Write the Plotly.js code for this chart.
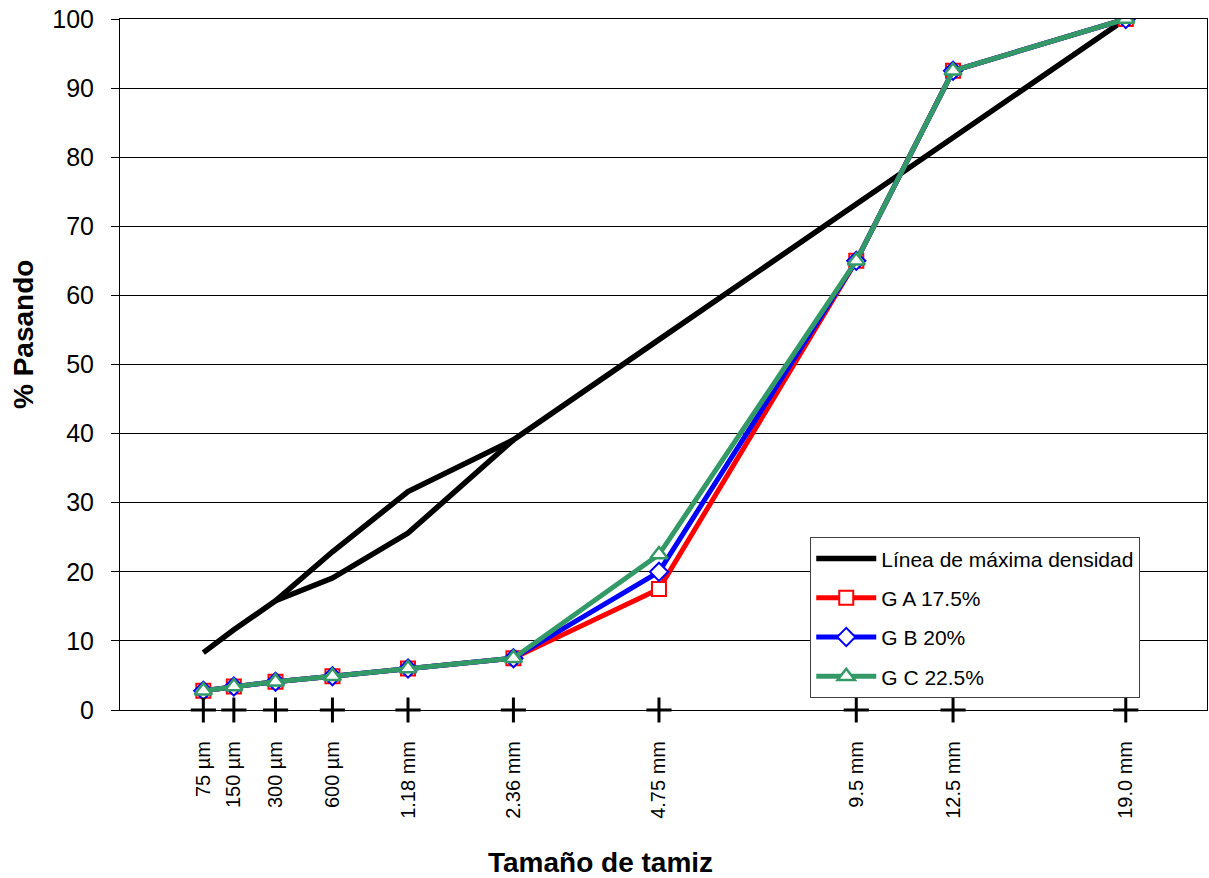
<!DOCTYPE html>
<html>
<head>
<meta charset="utf-8">
<script src="https://cdn.plot.ly/plotly-3.0.1.min.js"></script>
<style>html,body{margin:0;padding:0;background:#fff;}#chart{width:1209px;height:878px;}</style>
</head>
<body>
<div id="chart"></div>
<script>
// Sieve sizes (mm) and their labels
const sieveSizes = [0.075, 0.15, 0.3, 0.6, 1.18, 2.36, 4.75, 9.5, 12.5, 19.0];
const sieveLabels = ['75 µm', '150 µm', '300 µm', '600 µm', '1.18 mm', '2.36 mm', '4.75 mm', '9.5 mm', '12.5 mm', '19.0 mm'];
const powerExponent = 0.45; // 0.45-power gradation chart

// Maximum density line (as drawn, with its second branch between 300 µm and 2.36 mm)
const maxDensity = [8.3, 11.6, 15.8, 22.9, 31.6, 39.1, 53.6, 73.2, 82.9, 100];
const maxDensityBranchSizes = [0.3, 0.6, 1.18, 2.36];
const maxDensityBranch = [15.8, 19.1, 25.6, 39.1];

// Gradations (% passing)
const gradA = [2.8, 3.4, 4.1, 4.9, 6.0, 7.5, 17.5, 65.0, 92.5, 100];
const gradB = [2.8, 3.4, 4.1, 4.9, 6.0, 7.5, 20.0, 65.0, 92.5, 100];
const gradC = [2.8, 3.4, 4.1, 4.9, 6.0, 7.5, 22.5, 65.0, 92.5, 100];

const seriesNames = ['Línea de máxima densidad', 'G A 17.5%', 'G B 20%', 'G C 22.5%'];

const px = d => Math.pow(d, powerExponent);
const xs = sieveSizes.map(px);
const FONT = 'Arial, "Liberation Sans", sans-serif';

const mdX = xs.concat([null], maxDensityBranchSizes.map(px));
const mdY = maxDensity.concat([null], maxDensityBranch);

const traces = [
  {
    x: mdX, y: mdY, type: 'scatter', mode: 'lines', name: seriesNames[0],
    line: {color: '#000000', width: 5.5}, connectgaps: false, legendgroup: 'a'
  },
  {
    x: xs, y: gradA, type: 'scatter', mode: 'lines+markers', name: seriesNames[1],
    line: {color: '#FF0000', width: 5}, legendgroup: 'b',
    marker: {symbol: 'square', size: 14, color: '#FFFFFF', line: {color: '#FF0000', width: 2}}
  },
  {
    x: xs, y: gradB, type: 'scatter', mode: 'lines+markers', name: seriesNames[2],
    line: {color: '#0000FF', width: 5}, legendgroup: 'c',
    marker: {symbol: 'diamond', size: 14, color: '#FFFFFF', line: {color: '#0000FF', width: 2}}
  },
  {
    x: xs, y: gradC, type: 'scatter', mode: 'lines+markers', name: seriesNames[3],
    line: {color: '#339966', width: 5}, legendgroup: 'd',
    marker: {symbol: 'triangle-up', size: 15, color: '#FFFFFF', line: {color: '#339966', width: 2.5}}
  },
  {
    x: xs, y: sieveSizes.map(() => 0), type: 'scatter', mode: 'markers', showlegend: false,
    hoverinfo: 'skip', cliponaxis: false,
    marker: {symbol: 'cross-thin', size: 18, line: {color: '#000000', width: 3}}
  }
];

const layout = {
  width: 1209, height: 878,
  margin: {l: 120, r: 2, t: 19, b: 168, pad: 0},
  paper_bgcolor: '#FFFFFF', plot_bgcolor: '#FFFFFF',
  font: {family: FONT, color: '#000000'},
  showlegend: true,
  legend: {
    x: 0.635, y: 0.25, xanchor: 'left', yanchor: 'top',
    bgcolor: '#FFFFFF', bordercolor: '#404040', borderwidth: 1,
    font: {family: FONT, size: 21, color: '#000000'},
    traceorder: 'grouped', tracegroupgap: 9, itemwidth: 60
  },
  xaxis: {
    range: [0, 4.066], showgrid: false, zeroline: false,
    showline: true, linecolor: '#000000', linewidth: 1, mirror: true,
    tickmode: 'array', tickvals: xs, ticktext: sieveLabels,
    ticks: '', tickangle: -90, ticklabelstandoff: 22,
    tickfont: {family: FONT, size: 20, color: '#000000'},
    automargin: false
  },
  yaxis: {
    range: [0, 100], dtick: 10, tick0: 0,
    showgrid: true, gridcolor: '#000000', gridwidth: 1, zeroline: false,
    showline: true, linecolor: '#000000', linewidth: 1, mirror: true,
    ticks: 'outside', ticklen: 8, tickcolor: '#000000', ticklabelstandoff: 12,
    tickfont: {family: FONT, size: 25, color: '#000000'},
    automargin: false
  },
  annotations: [
    {
      text: '<b>Tamaño de tamiz</b>', xref: 'paper', yref: 'paper',
      x: (600 - 120) / 1087, y: -(862 - 710) / 691, xanchor: 'center', yanchor: 'middle',
      showarrow: false, font: {family: FONT, size: 28, color: '#000000'}
    },
    {
      text: '<b>% Pasando</b>', xref: 'paper', yref: 'paper', textangle: -90,
      x: -(120 - 23) / 1087, y: (710 - 335) / 691, xanchor: 'center', yanchor: 'middle',
      showarrow: false, font: {family: FONT, size: 28, color: '#000000'}
    }
  ]
};

Plotly.newPlot('chart', traces, layout, {displayModeBar: false, responsive: false});
</script>
</body>
</html>
